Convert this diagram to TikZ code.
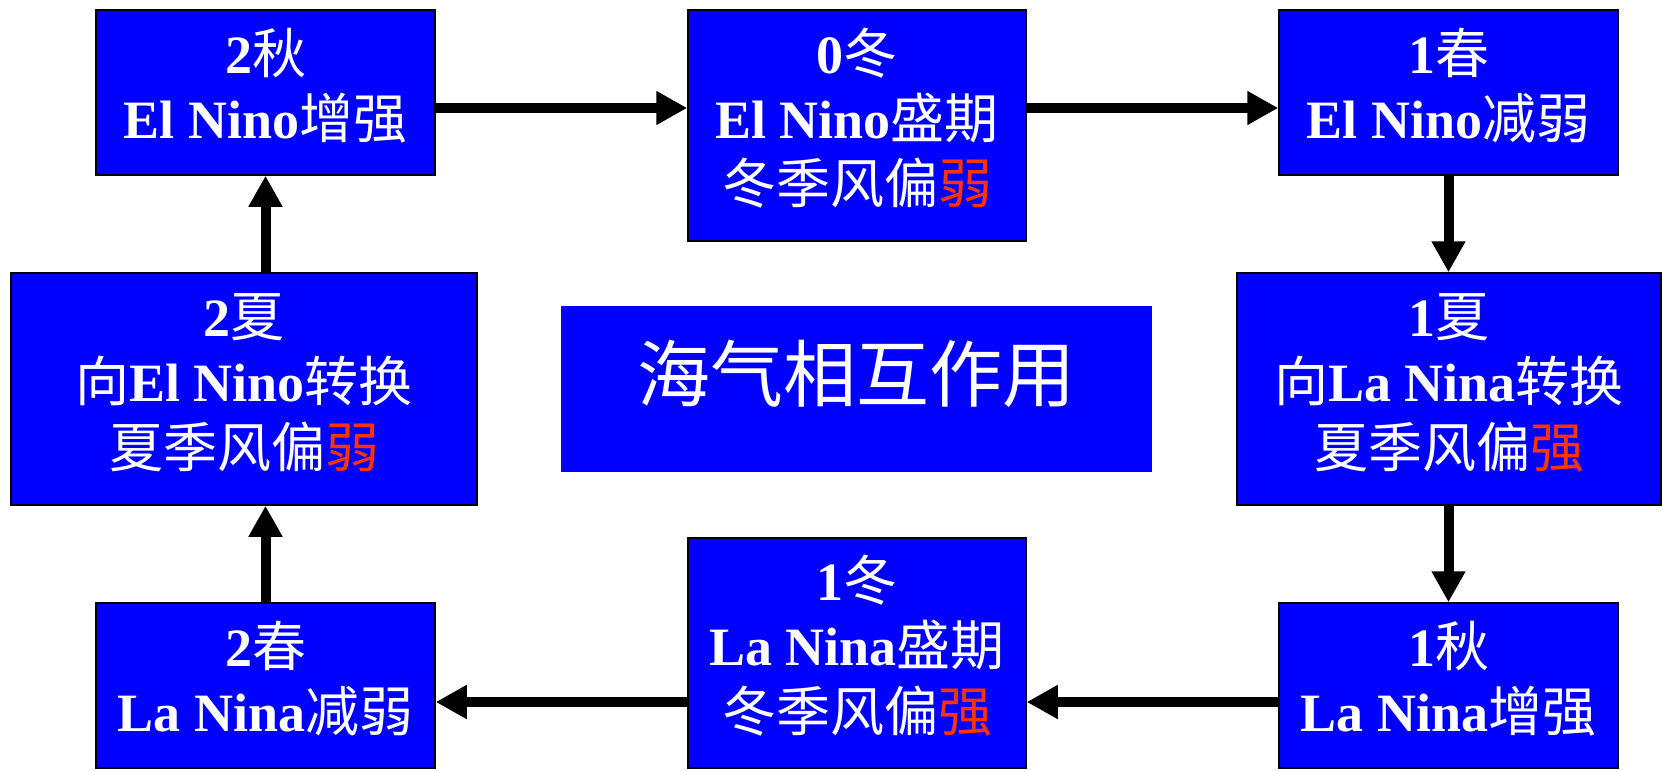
\documentclass[tikz,border=0pt]{standalone}
\usepackage{fontspec}
\setmainfont{Liberation Serif}
\newfontfamily\cjkf{Noto Sans CJK SC}
\usetikzlibrary{arrows.meta}
\newcommand{\C}[1]{{\cjkf\mdseries #1}}
\definecolor{nblue}{RGB}{0,0,255}
\definecolor{nred}{RGB}{255,51,0}
\newcommand{\R}[1]{\textcolor{nred}{\C{#1}}}
\newcommand{\T}[1]{\raisebox{8pt}{\begin{tabular}{@{}c@{}}#1\end{tabular}}}
\begin{document}
\begin{tikzpicture}[x=1pt,y=1pt,
  stagebox/.style={draw=black, line width=1.5pt, fill=nblue, text=white,
    inner sep=0pt, align=center, font=\fontsize{54}{65}\selectfont\bfseries},
  titlebox/.style={fill=nblue, text=white, inner sep=0pt, align=center,
    font=\fontsize{73}{80}\selectfont},
  arr/.style={line width=10pt, -{Triangle[length=31pt,width=32pt]}}]
\useasboundingbox (0,0) rectangle (1663,-771);
\node[stagebox, minimum width=339, minimum height=165] (A) at (265.5,-92.5) {\T{2\C{秋}\\El Nino\C{增强}}};
\node[stagebox, minimum width=338, minimum height=231] (B) at (857,-125.5) {\T{0\C{冬}\\El Nino\C{盛期}\\\C{冬季风偏}\R{弱}}};
\node[stagebox, minimum width=339, minimum height=165] (C) at (1448.5,-92.5) {\T{1\C{春}\\El Nino\C{减弱}}};
\node[stagebox, minimum width=466, minimum height=232] (D) at (244,-389) {\T{2\C{夏}\\\C{向}El Nino\C{转换}\\\C{夏季风偏}\R{弱}}};
\node[titlebox, minimum width=591, minimum height=166, text depth=0pt] (M) at (856.5,-389) {\raisebox{36pt}{\C{海气相互作用}}};
\node[stagebox, minimum width=424, minimum height=232] (E) at (1449,-389) {\T{1\C{夏}\\\C{向}La Nina\C{转换}\\\C{夏季风偏}\R{强}}};
\node[stagebox, minimum width=339, minimum height=165] (F) at (265.5,-685.5) {\T{2\C{春}\\La Nina\C{减弱}}};
\node[stagebox, minimum width=338, minimum height=230] (G) at (857,-653) {\T{1\C{冬}\\La Nina\C{盛期}\\\C{冬季风偏}\R{强}}};
\node[stagebox, minimum width=339, minimum height=165] (H) at (1448.5,-685.5) {\T{1\C{秋}\\La Nina\C{增强}}};
\draw[arr] ([yshift=-15.5pt]A.east) coordinate (a1) -- (a1 -| B.west);
\draw[arr] ([yshift=17.5pt]B.east) coordinate (b1) -- (b1 -| C.west);
\draw[arr] (C.south) -- (C.south |- E.north);
\draw[arr] (H.north |- E.south) -- (H.north);
\draw[arr] ([yshift=-16.5pt]H.west) coordinate (h1) -- (h1 -| G.east);
\draw[arr] ([yshift=-49pt]G.west) coordinate (g1) -- (g1 -| F.east);
\draw[arr] (F.north) -- (F.north |- D.south);
\draw[arr] (A.south |- D.north) -- (A.south);
\end{tikzpicture}
\end{document}
